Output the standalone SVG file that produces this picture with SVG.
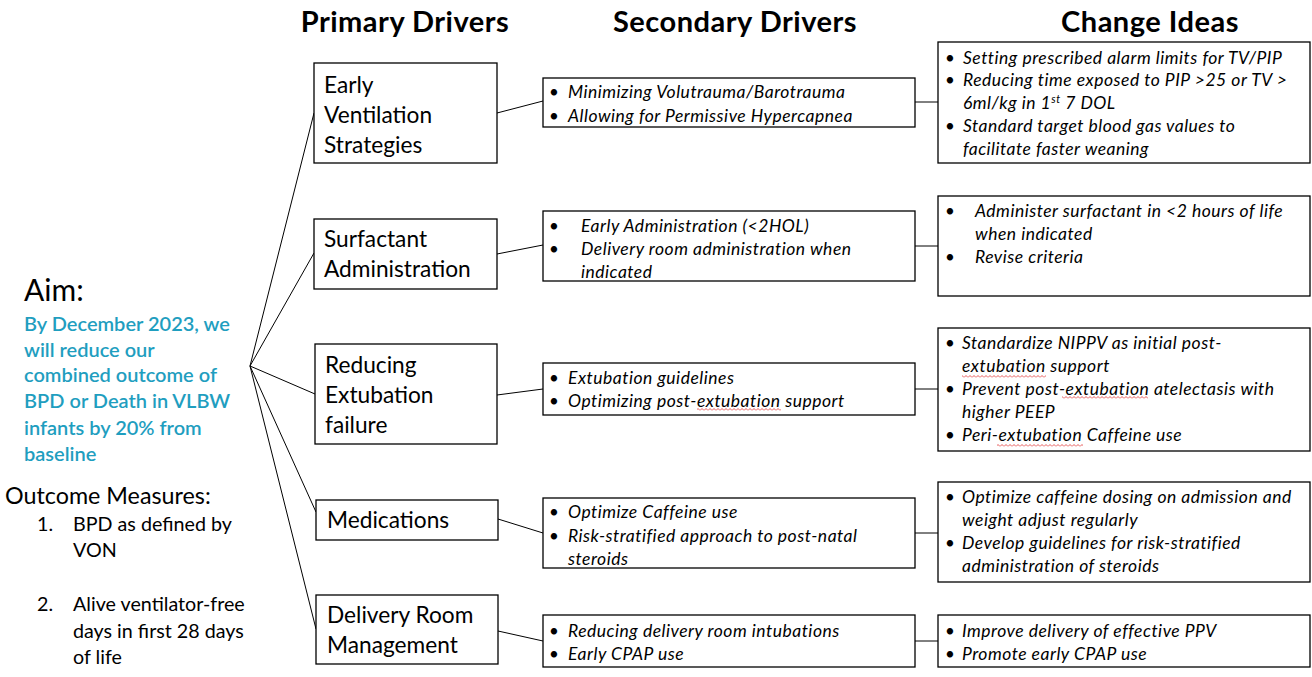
<svg xmlns="http://www.w3.org/2000/svg" width="1312" height="677" viewBox="0 0 1312 677">
<style>
text{font-family:Lato,"Open Sans","Liberation Sans",sans-serif;fill:#000}
.hd{font-size:29px;font-weight:bold;text-anchor:middle;letter-spacing:0.5px}
.box{fill:#fff;stroke:#000;stroke-width:1.3}
.pd{font-size:22.7px}
.it{font-size:17.5px;font-style:italic;letter-spacing:0.5px}
.bu{font-size:17px}
.aim{font-size:20px;fill:#1f9ebf;font-weight:600}
.om{font-size:19.7px}
.sq{fill:url(#squig)}
#connectors line{stroke:#000;stroke-width:1}
</style>
<defs>
<pattern id="squig" width="4" height="3" patternUnits="userSpaceOnUse">
<path d="M0,2.5 L2,0.5 L4,2.5" fill="none" stroke="#e03030" stroke-width="0.8"/>
</pattern>
</defs>
<rect width="1312" height="677" fill="#fff"/>
<text class="hd" x="405" y="32">Primary Drivers</text>
<text class="hd" x="735" y="32">Secondary Drivers</text>
<text class="hd" x="1150" y="32">Change Ideas</text>

<g id="aim">
<text x="24" y="301" style="font-size:30px">Aim:</text>
<text class="aim" x="24" y="331">By December 2023, we</text>
<text class="aim" x="24" y="357">will reduce our</text>
<text class="aim" x="24" y="382">combined outcome of</text>
<text class="aim" x="24" y="408">BPD or Death in VLBW</text>
<text class="aim" x="24" y="435">infants by 20% from</text>
<text class="aim" x="24" y="461">baseline</text>
<text x="5" y="504" style="font-size:23.3px">Outcome Measures:</text>
<text class="om" x="37" y="531">1.</text>
<text class="om" x="73" y="531">BPD as defined by</text>
<text class="om" x="73" y="557">VON</text>
<text class="om" x="37" y="611">2.</text>
<text class="om" x="73" y="611">Alive ventilator-free</text>
<text class="om" x="73" y="638">days in first 28 days</text>
<text class="om" x="73" y="664">of life</text>
</g>

<g id="connectors">
<line x1="250" y1="366" x2="314" y2="113"/>
<line x1="250" y1="366" x2="314" y2="253"/>
<line x1="250" y1="366" x2="315" y2="394"/>
<line x1="250" y1="366" x2="316" y2="512"/>
<line x1="250" y1="366" x2="316" y2="629"/>
<line x1="497" y1="113" x2="543" y2="101"/>
<line x1="497" y1="254" x2="543" y2="245"/>
<line x1="497" y1="395" x2="543" y2="389"/>
<line x1="498" y1="519" x2="543" y2="533"/>
<line x1="498" y1="631" x2="543" y2="641"/>
<line x1="915" y1="102" x2="938" y2="102"/>
<line x1="915" y1="246" x2="938" y2="246"/>
<line x1="915" y1="389" x2="938" y2="389"/>
<line x1="915" y1="533" x2="938" y2="533"/>
<line x1="915" y1="641" x2="938" y2="641"/>
</g>

<g id="p1"><rect class="box" x="314" y="63" width="183" height="100"/>
<text class="pd" x="324" y="93">Early</text><text class="pd" x="324" y="123">Ventilation</text><text class="pd" x="324" y="153">Strategies</text></g>
<g id="p2"><rect class="box" x="314" y="219" width="183" height="70"/>
<text class="pd" x="324" y="247">Surfactant</text><text class="pd" x="324" y="277">Administration</text></g>
<g id="p3"><rect class="box" x="315" y="344" width="182" height="100"/>
<text class="pd" x="325" y="373">Reducing</text><text class="pd" x="325" y="403">Extubation</text><text class="pd" x="325" y="433">failure</text></g>
<g id="p4"><rect class="box" x="316" y="500" width="182" height="40"/>
<text class="pd" x="327" y="528">Medications</text></g>
<g id="p5"><rect class="box" x="316" y="595" width="182" height="69"/>
<text class="pd" x="327" y="623">Delivery Room</text><text class="pd" x="327" y="653">Management</text></g>

<g id="s1"><rect class="box" x="543" y="78" width="372" height="49"/>
<text class="bu" x="549" y="98">•</text><text class="it" x="568" y="98">Minimizing Volutrauma/Barotrauma</text>
<text class="bu" x="549" y="122">•</text><text class="it" x="568" y="122">Allowing for Permissive Hypercapnea</text></g>
<g id="s2"><rect class="box" x="543" y="211" width="372" height="70"/>
<text class="bu" x="549" y="232">•</text><text class="it" x="581" y="232">Early Administration (&lt;2HOL)</text>
<text class="bu" x="549" y="255">•</text><text class="it" x="581" y="255">Delivery room administration when</text>
<text class="it" x="581" y="278">indicated</text></g>
<g id="s3"><rect class="box" x="543" y="363" width="372" height="52"/>
<text class="bu" x="549" y="384">•</text><text class="it" x="568" y="384">Extubation guidelines</text>
<text class="bu" x="549" y="407">•</text><text class="it" x="568" y="407">Optimizing post-extubation support</text>
<rect class="sq" x="697" y="408" width="84" height="3"/></g>
<g id="s4"><rect class="box" x="543" y="498" width="372" height="70"/>
<text class="bu" x="549" y="518">•</text><text class="it" x="568" y="518">Optimize Caffeine use</text>
<text class="bu" x="549" y="542">•</text><text class="it" x="568" y="542">Risk-stratified approach to post-natal</text>
<text class="it" x="568" y="565">steroids</text></g>
<g id="s5"><rect class="box" x="543" y="615" width="372" height="52"/>
<text class="bu" x="549" y="637">•</text><text class="it" x="568" y="637">Reducing delivery room intubations</text>
<text class="bu" x="549" y="660">•</text><text class="it" x="568" y="660">Early CPAP use</text></g>

<g id="c1"><rect class="box" x="938" y="42" width="372" height="121"/>
<text class="bu" x="945" y="64">•</text><text class="it" x="963" y="64">Setting prescribed alarm limits for TV/PIP</text>
<text class="bu" x="945" y="86">•</text><text class="it" x="963" y="86">Reducing time exposed to PIP &gt;25 or TV &gt;</text>
<text class="it" x="963" y="109">6ml/kg in 1<tspan dy="-6" style="font-size:11px">st</tspan><tspan dy="6"> 7 DOL</tspan></text>
<text class="bu" x="945" y="132">•</text><text class="it" x="963" y="132">Standard target blood gas values to</text>
<text class="it" x="963" y="155">facilitate faster weaning</text></g>
<g id="c2"><rect class="box" x="938" y="196" width="372" height="100"/>
<text class="bu" x="945" y="217">•</text><text class="it" x="975" y="217">Administer surfactant in &lt;2 hours of life</text>
<text class="it" x="975" y="240">when indicated</text>
<text class="bu" x="945" y="263">•</text><text class="it" x="975" y="263">Revise criteria</text></g>
<g id="c3"><rect class="box" x="938" y="328" width="372" height="123"/>
<text class="bu" x="945" y="349">•</text><text class="it" x="962" y="349">Standardize NIPPV as initial post-</text>
<text class="it" x="962" y="372">extubation support</text>
<text class="bu" x="945" y="395">•</text><text class="it" x="962" y="395">Prevent post-extubation atelectasis with</text>
<text class="it" x="962" y="418">higher PEEP</text>
<text class="bu" x="945" y="441">•</text><text class="it" x="962" y="441">Peri-extubation Caffeine use</text>
<rect class="sq" x="962" y="375" width="84" height="3"/>
<rect class="sq" x="1062" y="396" width="86" height="3"/>
<rect class="sq" x="997" y="444" width="86" height="3"/></g>
<g id="c4"><rect class="box" x="938" y="482" width="372" height="100"/>
<text class="bu" x="945" y="503">•</text><text class="it" x="962" y="503">Optimize caffeine dosing on admission and</text>
<text class="it" x="962" y="526">weight adjust regularly</text>
<text class="bu" x="945" y="549">•</text><text class="it" x="962" y="549">Develop guidelines for risk-stratified</text>
<text class="it" x="962" y="572">administration of steroids</text></g>
<g id="c5"><rect class="box" x="938" y="615" width="372" height="52"/>
<text class="bu" x="945" y="637">•</text><text class="it" x="962" y="637">Improve delivery of effective PPV</text>
<text class="bu" x="945" y="660">•</text><text class="it" x="962" y="660">Promote early CPAP use</text></g>
</svg>
